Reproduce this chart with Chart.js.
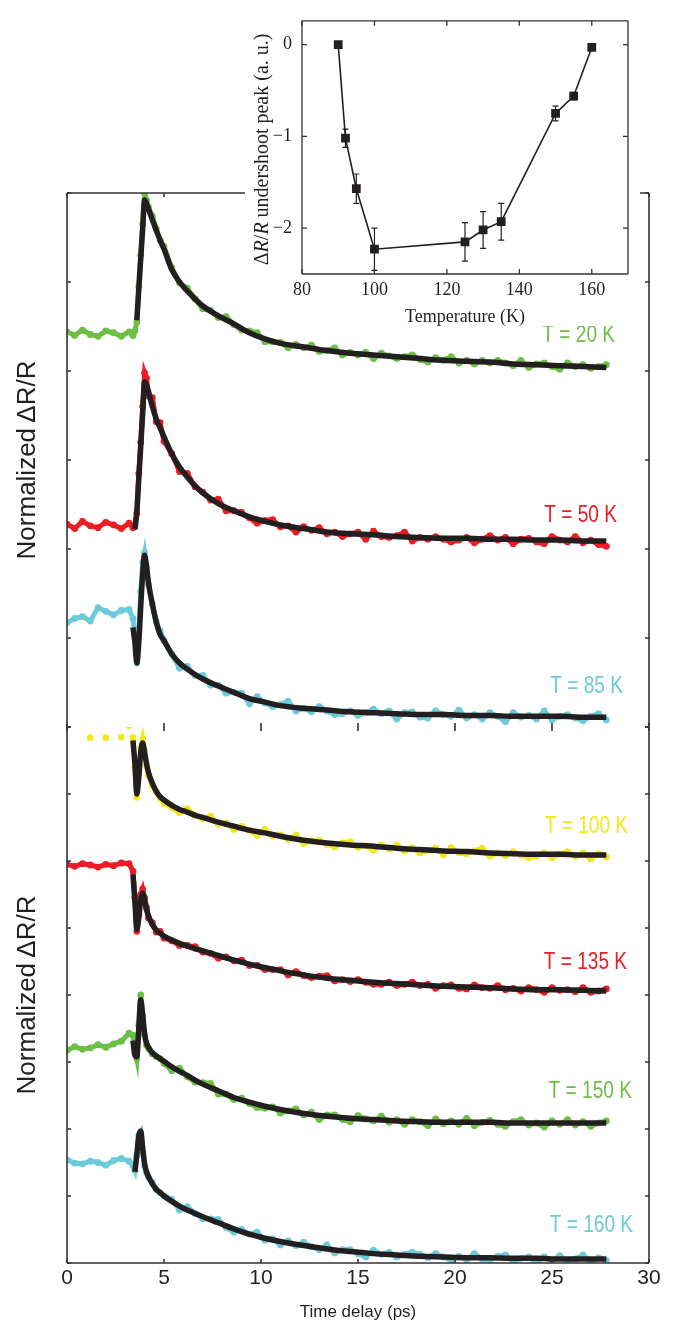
<!DOCTYPE html>
<html>
<head>
<meta charset="utf-8">
<script src="https://cdn.jsdelivr.net/npm/chart.js@4.4.1/dist/chart.umd.min.js"></script>
<style>
  html, body { margin: 0; padding: 0; background: #fff; }
  body { width: 677px; height: 1333px; position: relative; overflow: hidden; }
  canvas { position: absolute; }
  #bottomChart { left: 0; top: 717px; }
  #topChart { left: 0; top: 183px; }
  #insetChart { left: 245px; top: 0; }
</style>
</head>
<body>
<canvas id="bottomChart" width="677" height="616"></canvas>
<canvas id="topChart" width="677" height="554"></canvas>
<canvas id="insetChart" width="395" height="326"></canvas>
<script>
// time grid of the measured points (ps)
const timeDelay = [
  0, 0.4, 0.8, 1.2, 1.6, 2.0, 2.4, 2.8, 3.2,
  3.4, 3.5, 3.6, 3.7, 3.8, 3.9, 4.0, 4.1, 4.2,
  4.4, 4.6, 4.8, 5.0,
  5.4, 5.8, 6.2, 6.6, 7.0, 7.4, 7.8, 8.2, 8.6, 9.0,
  9.4, 9.8, 10.2, 10.6, 11.0, 11.4, 11.8, 12.2, 12.6, 13.0,
  13.4, 13.8, 14.2, 14.6, 15.0, 15.4, 15.8, 16.2, 16.6, 17.0,
  17.4, 17.8, 18.2, 18.6, 19.0, 19.4, 19.8, 20.2, 20.6, 21.0,
  21.4, 21.8, 22.2, 22.6, 23.0, 23.4, 23.8, 24.2, 24.6, 25.0,
  25.4, 25.8, 26.2, 26.6, 27.0, 27.4, 27.8,
]
// time grid of the fitted curves (ps)
const fitTime = [
  3.4, 3.5, 3.6, 3.7, 3.8, 3.9, 4.0, 4.1, 4.2,
  4.4, 4.6, 4.8, 5.0,
  5.4, 5.8, 6.2, 6.6, 7.0,
  7.8, 8.6, 9.4, 10.2, 11.0,
  12.2, 13.4, 14.6, 15.8, 17.0,
  18.2, 19.4, 20.6, 21.8, 23.0,
  24.2, 25.4, 26.6, 27.8,
]
const timeTicks = [0, 5, 10, 15, 20, 25, 30]
const topTicks = [0, 1, 2, 3, 4, 5, 6]
const bottomTicks = [0, 1, 2, 3, 4, 5, 6, 7, 8]

// upper panel (offset traces)
const dots20K = [
  4.44, 4.40, 4.46, 4.41, 4.39, 4.45, 4.43, 4.39, 4.44,
  4.40, 4.45, 4.55, 4.95, 5.30, 5.65, 6.00, 5.92, 5.84,
  5.74, 5.60, 5.47, 5.40,
  5.16, 4.99, 4.93, 4.81, 4.70, 4.68, 4.60, 4.61, 4.52, 4.46,
  4.45, 4.43, 4.33, 4.33, 4.32, 4.26, 4.30, 4.26, 4.29, 4.22,
  4.23, 4.26, 4.18, 4.21, 4.18, 4.21, 4.14, 4.20, 4.17, 4.14,
  4.16, 4.18, 4.13, 4.10, 4.15, 4.12, 4.16, 4.09, 4.12, 4.08,
  4.12, 4.09, 4.12, 4.09, 4.06, 4.12, 4.04, 4.08, 4.09, 4.05,
  4.02, 4.09, 4.05, 4.07, 4.03, 4.05, 4.07,
]
const fit20K = [
  null, null, 4.57, 4.92, 5.26, 5.60, 5.92, 5.88, 5.82,
  5.70, 5.58, 5.47, 5.37,
  5.14, 5.00, 4.90, 4.81, 4.73,
  4.62, 4.53, 4.43, 4.36, 4.31,
  4.27, 4.23, 4.20, 4.18, 4.16,
  4.14, 4.12, 4.11, 4.10, 4.08,
  4.07, 4.06, 4.05, 4.04,
]
const dots50K = [
  2.28, 2.23, 2.31, 2.26, 2.24, 2.30, 2.27, 2.23, 2.29,
  2.24, 2.27, 2.40, 2.85, 3.20, 3.60, 3.98, 3.92, 3.72,
  3.70, 3.43, 3.42, 3.21,
  3.07, 2.87, 2.85, 2.70, 2.64, 2.55, 2.56, 2.43, 2.43, 2.41,
  2.35, 2.29, 2.32, 2.33, 2.25, 2.26, 2.19, 2.25, 2.21, 2.24,
  2.17, 2.19, 2.14, 2.17, 2.19, 2.11, 2.20, 2.14, 2.13, 2.15,
  2.19, 2.09, 2.13, 2.11, 2.14, 2.11, 2.08, 2.10, 2.13, 2.07,
  2.11, 2.15, 2.10, 2.13, 2.06, 2.11, 2.12, 2.08, 2.06, 2.14,
  2.10, 2.08, 2.14, 2.07, 2.10, 2.05, 2.03,
]
const fit50K = [
  null, 2.22, 2.42, 2.79, 3.15, 3.52, 3.88, 3.84, 3.77,
  3.60, 3.46, 3.36, 3.26,
  3.07, 2.92, 2.81, 2.71, 2.63,
  2.51, 2.43, 2.36, 2.31, 2.27,
  2.23, 2.19, 2.17, 2.16, 2.14,
  2.13, 2.12, 2.12, 2.11, 2.11,
  2.10, 2.10, 2.09, 2.09,
]
const dots85K = [
  1.17, 1.22, 1.24, 1.19, 1.34, 1.30, 1.26, 1.31, 1.32,
  1.22, 1.02, 0.72, 1.08, 1.52, 1.85, 1.96, 1.80, 1.60,
  1.38, 1.18, 1.08, 0.97,
  0.82, 0.66, 0.68, 0.58, 0.58, 0.47, 0.47, 0.38, 0.39, 0.38,
  0.26, 0.34, 0.27, 0.23, 0.25, 0.29, 0.18, 0.21, 0.17, 0.23,
  0.18, 0.14, 0.15, 0.18, 0.13, 0.16, 0.20, 0.15, 0.18, 0.09,
  0.16, 0.17, 0.11, 0.10, 0.18, 0.14, 0.12, 0.19, 0.10, 0.14,
  0.09, 0.16, 0.12, 0.06, 0.16, 0.11, 0.13, 0.09, 0.18, 0.08,
  0.12, 0.14, 0.10, 0.07, 0.12, 0.15, 0.08,
]
const fit85K = [
  1.12, 0.95, 0.72, 0.95, 1.35, 1.72, 1.93, 1.80, 1.62,
  1.38, 1.18, 1.04, 0.97,
  0.82, 0.72, 0.65, 0.59, 0.54,
  0.46, 0.39, 0.32, 0.28, 0.24,
  0.21, 0.19, 0.17, 0.16, 0.15,
  0.14, 0.14, 0.13, 0.13, 0.12,
  0.12, 0.12, 0.11, 0.11,
]

// lower panel (offset traces)
const dots100K = [
  8.02, 8.12, 8.15, 7.84, 8.14, 7.84, 8.13, 7.85, 8.02,
  7.84, 7.40, 6.95, 7.30, 7.68, 7.82, 7.65, 7.42, 7.28,
  7.12, 7.04, 6.94, 6.86,
  6.80, 6.72, 6.78, 6.68, 6.63, 6.67, 6.55, 6.57, 6.47, 6.52,
  6.46, 6.38, 6.47, 6.37, 6.39, 6.32, 6.39, 6.26, 6.30, 6.31,
  6.25, 6.21, 6.27, 6.29, 6.20, 6.23, 6.16, 6.24, 6.18, 6.24,
  6.15, 6.20, 6.12, 6.16, 6.19, 6.09, 6.20, 6.12, 6.11, 6.15,
  6.19, 6.07, 6.12, 6.08, 6.14, 6.09, 6.05, 6.07, 6.12, 6.05,
  6.10, 6.14, 6.07, 6.12, 6.03, 6.11, 6.06,
]
const fit100K = [
  7.80, 7.45, 7.00, 7.25, 7.62, 7.76, 7.62, 7.45, 7.32,
  7.16, 7.04, 6.96, 6.91,
  6.83, 6.77, 6.73, 6.68, 6.65,
  6.58, 6.52, 6.46, 6.42, 6.37,
  6.31, 6.27, 6.24, 6.22, 6.19,
  6.17, 6.15, 6.14, 6.12, 6.11,
  6.10, 6.10, 6.09, 6.09,
]
const dots135K = [
  5.95, 5.92, 5.96, 5.94, 5.91, 5.95, 5.93, 5.97, 5.96,
  5.85, 5.45, 4.95, 5.20, 5.50, 5.58, 5.45, 5.30, 5.15,
  5.08, 4.94, 4.95, 4.85,
  4.81, 4.74, 4.74, 4.72, 4.64, 4.62, 4.55, 4.57, 4.51, 4.52,
  4.44, 4.44, 4.38, 4.38, 4.38, 4.30, 4.35, 4.29, 4.26, 4.28,
  4.29, 4.21, 4.23, 4.20, 4.23, 4.19, 4.16, 4.16, 4.19, 4.14,
  4.16, 4.19, 4.14, 4.16, 4.10, 4.14, 4.15, 4.10, 4.09, 4.15,
  4.11, 4.10, 4.14, 4.08, 4.10, 4.06, 4.11, 4.08, 4.04, 4.11,
  4.07, 4.08, 4.05, 4.11, 4.04, 4.06, 4.09,
]
const fit135K = [
  5.80, 5.40, 4.98, 5.15, 5.42, 5.52, 5.42, 5.28, 5.18,
  5.05, 4.97, 4.92, 4.88,
  4.82, 4.77, 4.73, 4.69, 4.66,
  4.59, 4.52, 4.46, 4.41, 4.36,
  4.30, 4.25, 4.22, 4.19, 4.17,
  4.15, 4.13, 4.12, 4.11, 4.09,
  4.08, 4.08, 4.07, 4.06,
]
const dots150K = [
  3.17, 3.23, 3.19, 3.21, 3.26, 3.22, 3.27, 3.31, 3.43,
  3.40, 3.20, 3.05, 3.55, 4.00, 3.70, 3.40, 3.25, 3.20,
  3.12, 3.08, 3.05, 2.98,
  2.87, 2.91, 2.78, 2.70, 2.69, 2.68, 2.52, 2.52, 2.44, 2.46,
  2.38, 2.32, 2.31, 2.33, 2.24, 2.27, 2.30, 2.21, 2.25, 2.14,
  2.21, 2.21, 2.14, 2.11, 2.20, 2.15, 2.12, 2.19, 2.10, 2.14,
  2.07, 2.14, 2.11, 2.05, 2.15, 2.08, 2.12, 2.07, 2.16, 2.05,
  2.10, 2.13, 2.07, 2.04, 2.11, 2.14, 2.06, 2.09, 2.03, 2.12,
  2.07, 2.14, 2.06, 2.11, 2.04, 2.09, 2.12,
]
const fit150K = [
  3.32, 3.10, 3.08, 3.50, 3.93, 3.70, 3.42, 3.28, 3.22,
  3.14, 3.09, 3.05, 3.01,
  2.93, 2.86, 2.80, 2.73, 2.67,
  2.57, 2.47, 2.40, 2.34, 2.29,
  2.23, 2.19, 2.16, 2.14, 2.12,
  2.11, 2.10, 2.10, 2.10, 2.09,
  2.09, 2.09, 2.09, 2.09,
]
const dots160K = [
  1.54, 1.49, 1.48, 1.52, 1.50, 1.46, 1.53, 1.56, 1.52,
  1.45, 1.38, 1.60, 1.90, 1.95, 1.65, 1.45, 1.35, 1.28,
  1.20, 1.10, 1.05, 1.00,
  0.95, 0.79, 0.84, 0.74, 0.66, 0.66, 0.65, 0.53, 0.46, 0.50,
  0.43, 0.46, 0.34, 0.36, 0.27, 0.33, 0.26, 0.31, 0.24, 0.20,
  0.27, 0.15, 0.20, 0.20, 0.14, 0.09, 0.19, 0.13, 0.16, 0.09,
  0.13, 0.16, 0.13, 0.08, 0.14, 0.09, 0.04, 0.10, 0.05, 0.14,
  0.06, 0.05, 0.10, 0.12, 0.02, 0.07, 0.09, 0.01, 0.09, 0.04,
  0.11, 0.03, 0.06, 0.12, 0.01, 0.08, 0.04,
]
const fit160K = [
  null, 1.36, 1.62, 1.90, 1.97, 1.72, 1.48, 1.36, 1.29,
  1.18, 1.10, 1.05, 1.00,
  0.92, 0.85, 0.79, 0.74, 0.69,
  0.60, 0.51, 0.43, 0.37, 0.32,
  0.26, 0.21, 0.17, 0.14, 0.12,
  0.10, 0.09, 0.08, 0.08, 0.07,
  0.07, 0.06, 0.06, 0.06,
]
const topLabels = ['T = 20 K', 'T = 50 K', 'T = 85 K']
const bottomLabels = ['T = 100 K', 'T = 135 K', 'T = 150 K', 'T = 160 K']

// inset: undershoot peak vs temperature
const tempK = [90, 92, 95, 100, 125, 130, 135, 150, 155, 160]
const undershootPeak = [0, -1.02, -1.57, -2.23, -2.15, -2.02, -1.93, -0.75, -0.56, -0.03]
const undershootErr = [0, 0.1, 0.16, 0.23, 0.21, 0.2, 0.2, 0.08, 0.04, 0]
const tempTicks = [80, 100, 120, 140, 160]
const peakTicks = [0, -1, -2]

const GREEN = '#6cbe45'
const RED = '#ed1c24'
const CYAN = '#6dcadb'
const YELLOW = '#f2e81c'
const INK = '#231f20'
const SANS = "'Liberation Sans', Arial, sans-serif"
const SERIF = "'Liberation Serif', 'Times New Roman', serif"

Chart.defaults.font.family = SANS
Chart.defaults.color = INK

function points(xs, ys) {
  return xs.map((x, i) => ({ x: x, y: ys[i] }))
}

// box lines + inward tick marks
function frame(cfg) {
  return {
    id: 'frame',
    afterDraw(chart) {
      const ctx = chart.ctx
      const a = chart.chartArea
      const sx = chart.scales.x
      const sy = chart.scales.y
      ctx.save()
      ctx.strokeStyle = cfg.color
      ctx.lineWidth = cfg.width
      ctx.beginPath()
      if (cfg.sides.includes('top')) { ctx.moveTo(a.left, a.top); ctx.lineTo(a.right, a.top) }
      if (cfg.sides.includes('bottom')) { ctx.moveTo(a.left, a.bottom); ctx.lineTo(a.right, a.bottom) }
      if (cfg.sides.includes('left')) { ctx.moveTo(a.left, a.top); ctx.lineTo(a.left, a.bottom) }
      if (cfg.sides.includes('right')) { ctx.moveTo(a.right, a.top); ctx.lineTo(a.right, a.bottom) }
      ctx.stroke()
      const L = cfg.tickLength
      ctx.lineWidth = cfg.tickWidth
      ctx.beginPath()
      cfg.xTicks.forEach((v) => {
        const px = sx.getPixelForValue(v)
        ctx.moveTo(px, a.bottom); ctx.lineTo(px, a.bottom - L)
        ctx.moveTo(px, a.top); ctx.lineTo(px, a.top + L)
      })
      cfg.yTicks.forEach((v) => {
        const py = sy.getPixelForValue(v)
        ctx.moveTo(a.left, py); ctx.lineTo(a.left + L, py)
        ctx.moveTo(a.right, py); ctx.lineTo(a.right - L, py)
      })
      ctx.stroke()
      ctx.restore()
    },
  }
}

// temperature tags next to each trace (narrow sans)
function tempText(items) {
  return {
    id: 'tempText',
    afterDatasetsDraw(chart) {
      const ctx = chart.ctx
      items.forEach((it) => {
        const px = chart.scales.x.getPixelForValue(it.x)
        const py = chart.scales.y.getPixelForValue(it.y)
        ctx.save()
        ctx.translate(px, py)
        ctx.scale(0.83, 1)
        ctx.font = '23px ' + SANS
        ctx.fillStyle = it.color
        ctx.textAlign = 'right'
        ctx.textBaseline = 'middle'
        ctx.fillText(it.text, 0, 0)
        ctx.restore()
      })
    },
  }
}

function panel(id, traces, yMax, yTicks, withXAxis, tags) {
  const datasets = []
  traces.forEach((s) => {
    datasets.push({
      data: points(fitTime, s.fit),
      borderColor: INK,
      borderWidth: 5.5,
      pointRadius: 0,
      cubicInterpolationMode: 'monotone',
      order: 0,
    })
    datasets.push({
      data: points(timeDelay, s.dots),
      borderColor: s.color,
      backgroundColor: s.color,
      borderWidth: 5,
      pointRadius: 3.4,
      pointBorderWidth: 0,
      tension: 0,
      // hide the joins of samples that sit above the frame
      segment: {
        borderColor: (c) => (c.p0.parsed.y > yMax || c.p1.parsed.y > yMax ? 'rgba(0,0,0,0)' : undefined),
      },
      order: 1,
    })
  })

  new Chart(document.getElementById(id), {
    type: 'line',
    data: { datasets: datasets },
    options: {
      responsive: false,
      animation: false,
      devicePixelRatio: 1,
      layout: { padding: { top: 10, right: 28, bottom: withXAxis ? 0 : 10, left: 0 } },
      plugins: { legend: { display: false }, tooltip: { enabled: false } },
      scales: {
        x: {
          type: 'linear',
          min: 0,
          max: 30,
          display: withXAxis,
          grid: { display: false, drawTicks: false },
          border: { display: false },
          afterBuildTicks: (sc) => { sc.ticks = timeTicks.map((v) => ({ value: v })) },
          ticks: { font: { size: 21 }, padding: 3, maxRotation: 0, color: INK },
          title: { display: true, text: 'Time delay (ps)', font: { size: 17 }, padding: { top: 0, bottom: 10 }, color: INK },
          afterFit: (sc) => { sc.height = withXAxis ? 70 : 0 },
        },
        y: {
          type: 'linear',
          min: 0,
          max: yMax,
          grid: { display: false, drawTicks: false },
          border: { display: false },
          ticks: { display: false },
          title: { display: true, text: 'Normalized\u2009ΔR/R', font: { size: 26 }, padding: { top: 12, bottom: 0 }, color: INK },
          afterFit: (sc) => { sc.width = 67 },
        },
      },
    },
    plugins: [
      frame({
        color: '#333',
        width: 1.6,
        tickWidth: 1.6,
        tickLength: 4,
        sides: withXAxis ? ['left', 'right', 'bottom'] : ['left', 'right', 'top'],
        xTicks: timeTicks,
        yTicks: yTicks,
      }),
      tempText(tags),
    ],
  })
}

panel('topChart', [
  { dots: dots20K, fit: fit20K, color: GREEN },
  { dots: dots50K, fit: fit50K, color: RED },
  { dots: dots85K, fit: fit85K, color: CYAN },
], 6, topTicks, false, [
  { text: topLabels[0], color: GREEN, x: 28.25, y: 4.40 },
  { text: topLabels[1], color: RED, x: 28.35, y: 2.38 },
  { text: topLabels[2], color: CYAN, x: 28.66, y: 0.45 },
])

panel('bottomChart', [
  { dots: dots100K, fit: fit100K, color: YELLOW },
  { dots: dots135K, fit: fit135K, color: RED },
  { dots: dots150K, fit: fit150K, color: GREEN },
  { dots: dots160K, fit: fit160K, color: CYAN },
], 8, bottomTicks, true, [
  { text: bottomLabels[0], color: YELLOW, x: 28.92, y: 6.51 },
  { text: bottomLabels[1], color: RED, x: 28.87, y: 4.48 },
  { text: bottomLabels[2], color: GREEN, x: 29.12, y: 2.55 },
  { text: bottomLabels[3], color: CYAN, x: 29.18, y: 0.55 },
])

// inset helpers
const whiteBg = {
  id: 'whiteBg',
  beforeDraw(chart) {
    const ctx = chart.ctx
    ctx.save()
    ctx.fillStyle = '#fff'
    ctx.fillRect(0, 0, chart.width, chart.height)
    ctx.restore()
  },
}

const errorBars = {
  id: 'errorBars',
  beforeDatasetsDraw(chart) {
    const ctx = chart.ctx
    const x = chart.scales.x
    const y = chart.scales.y
    ctx.save()
    ctx.strokeStyle = INK
    ctx.lineWidth = 1.2
    tempK.forEach((t, i) => {
      const e = undershootErr[i]
      if (!e) return
      const px = x.getPixelForValue(t)
      const top = y.getPixelForValue(undershootPeak[i] + e)
      const bot = y.getPixelForValue(undershootPeak[i] - e)
      ctx.beginPath()
      ctx.moveTo(px, top); ctx.lineTo(px, bot)
      ctx.moveTo(px - 3, top); ctx.lineTo(px + 3, top)
      ctx.moveTo(px - 3, bot); ctx.lineTo(px + 3, bot)
      ctx.stroke()
    })
    ctx.restore()
  },
}

// y title with italic R's
const insetYTitle = {
  id: 'insetYTitle',
  afterDraw(chart) {
    const ctx = chart.ctx
    const a = chart.chartArea
    const parts = [['Δ', ''], ['R', 'italic '], ['/', ''], ['R', 'italic '], [' undershoot peak (a. u.)', '']]
    const size = 20
    ctx.save()
    ctx.translate(a.left - 39, (a.top + a.bottom) / 2 + 2)
    ctx.rotate(-Math.PI / 2)
    ctx.fillStyle = INK
    ctx.textBaseline = 'middle'
    ctx.textAlign = 'left'
    let total = 0
    parts.forEach((p) => {
      ctx.font = p[1] + size + 'px ' + SERIF
      total += ctx.measureText(p[0]).width
    })
    let cx = -total / 2
    parts.forEach((p) => {
      ctx.font = p[1] + size + 'px ' + SERIF
      ctx.fillText(p[0], cx, 0)
      cx += ctx.measureText(p[0]).width
    })
    ctx.restore()
  },
}

new Chart(document.getElementById('insetChart'), {
  type: 'line',
  data: {
    datasets: [
      {
        data: points(tempK, undershootPeak),
        borderColor: INK,
        backgroundColor: INK,
        borderWidth: 1.6,
        pointStyle: 'rect',
        pointRadius: 6.2,
        pointBorderWidth: 0,
        tension: 0,
      },
    ],
  },
  options: {
    responsive: false,
    animation: false,
    devicePixelRatio: 1,
    layout: { padding: { top: 8, right: 12, bottom: 0, left: 0 } },
    plugins: { legend: { display: false }, tooltip: { enabled: false } },
    scales: {
      x: {
        type: 'linear',
        min: 80,
        max: 170,
        grid: { display: false, drawTicks: false },
        border: { display: false },
        afterBuildTicks: (sc) => { sc.ticks = tempTicks.map((v) => ({ value: v })) },
        ticks: { font: { family: SERIF, size: 18 }, padding: 5, maxRotation: 0, color: INK },
        title: { display: true, text: 'Temperature (K)', font: { family: SERIF, size: 18, lineHeight: 1 }, padding: { top: 0, bottom: 0 }, color: INK },
        afterFit: (sc) => { sc.height = 52 },
      },
      y: {
        type: 'linear',
        min: -2.5,
        max: 0.26,
        grid: { display: false, drawTicks: false },
        border: { display: false },
        afterBuildTicks: (sc) => { sc.ticks = peakTicks.map((v) => ({ value: v })) },
        ticks: {
          font: { family: SERIF, size: 18 },
          padding: 10,
          color: INK,
          callback: (v) => String(v).replace('-', '\u2212'),
        },
        afterFit: (sc) => { sc.width = 57 },
      },
    },
  },
  plugins: [
    whiteBg,
    errorBars,
    frame({
      color: '#333',
      width: 1.3,
      tickWidth: 1.3,
      tickLength: 5,
      sides: ['left', 'right', 'top', 'bottom'],
      xTicks: tempTicks,
      yTicks: peakTicks,
    }),
    insetYTitle,
  ],
})
</script>
</body>
</html>
